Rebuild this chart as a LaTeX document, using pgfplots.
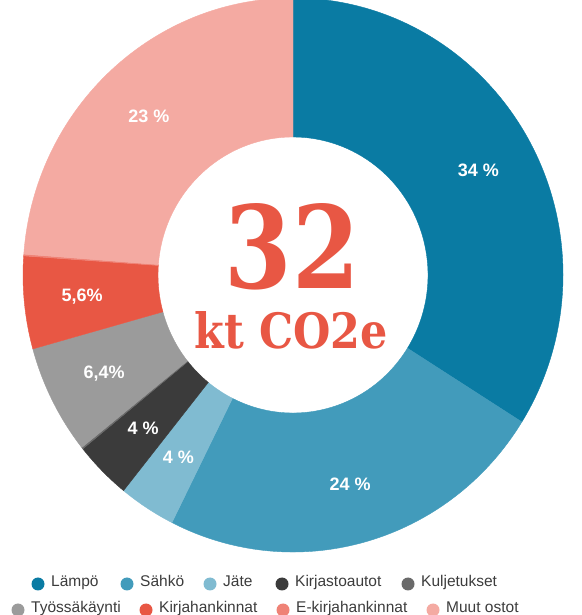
\documentclass[border=0pt]{standalone}
\usepackage{graphicx}
\usepackage{pgfplots}
\pgfplotsset{compat=1.18}
\usepackage{pgfplotstable}
\usepackage{fontspec}
\setmainfont{Liberation Sans}
\newfontfamily\slab{DejaVu Serif}

\definecolor{slice0}{HTML}{0A7BA3}
\definecolor{slice1}{HTML}{429BBB}
\definecolor{slice2}{HTML}{80BBD1}
\definecolor{slice3}{HTML}{3B3B3B}
\definecolor{slice4}{HTML}{6A6A6A}
\definecolor{slice5}{HTML}{9B9B9B}
\definecolor{slice6}{HTML}{E85744}
\definecolor{slice7}{HTML}{EF8276}
\definecolor{slice8}{HTML}{F4AAA2}
\definecolor{legtext}{HTML}{3C3C3C}

% share of the circle (%), label shown on the ring
\pgfplotstableread{
share label
33.9 {34 \%}
23.5 {24 \%}
3.4 {4 \%}
3.4 {4 \%}
0.1 {}
6.4 {6,4\%}
5.4 {5,6\%}
0.1 {}
23.8 {23 \%}
}\slices

% cumulative angles, clockwise from the top
\def\cum{0}
\pgfplotsforeachungrouped \i in {0,...,8}{%
  \pgfplotstablegetelem{\i}{share}\of\slices
  \pgfmathsetmacro\a{90-3.6*\cum}%
  \pgfmathsetmacro\cum{\cum+\pgfplotsretval}%
  \pgfmathsetmacro\b{90-3.6*\cum}%
  \expandafter\xdef\csname sa\i\endcsname{\a}%
  \expandafter\xdef\csname sb\i\endcsname{\b}%
  \pgfplotstablegetelem{\i}{label}\of\slices
  \expandafter\global\expandafter\let\csname sl\i\endcsname\pgfplotsretval
}

\newcommand\legitem[4]{%
  \fill[#3] (axis cs:#1,#2) circle[radius=6.5pt];
  \node[anchor=mid west, inner sep=0, text=legtext, font=\fontsize{15.5}{15.5}\selectfont]
    at (axis cs:{#1+13},#2) {#4};
}

\begin{document}
\begin{tikzpicture}
\begin{axis}[
    hide axis,
    scale only axis,
    width=581pt, height=615pt,
    xmin=-293, xmax=288,
    ymin=-340, ymax=275,
]
\pgfplotsinvokeforeach{0,...,8}{
  \fill[slice#1, draw=slice#1, line width=0.4pt]
    (axis cs:{270*cos(\csname sa#1\endcsname)},{277*sin(\csname sa#1\endcsname)})
    arc[start angle=\csname sa#1\endcsname, end angle=\csname sb#1\endcsname, x radius=270pt, y radius=277pt]
    -- (axis cs:{135*cos(\csname sb#1\endcsname)},{138*sin(\csname sb#1\endcsname)})
    arc[start angle=\csname sb#1\endcsname, end angle=\csname sa#1\endcsname, x radius=135pt, y radius=138pt]
    -- cycle;
}
\pgfplotsinvokeforeach{0,...,8}{
  \node[text=white, font=\bfseries\fontsize{18}{18}\selectfont, inner sep=0]
    at (axis cs:{212*cos((\csname sa#1\endcsname+\csname sb#1\endcsname)/2)},{217*sin((\csname sa#1\endcsname+\csname sb#1\endcsname)/2)})
    {\csname sl#1\endcsname};
}
\node[inner sep=0, text=slice6] at (axis cs:-1,28) {\resizebox{135pt}{85pt}{\slab\bfseries 32}};
\node[inner sep=0, text=slice6] at (axis cs:-1.5,-55) {\resizebox{193pt}{37pt}{\slab\bfseries kt CO2e}};

\legitem{-255}{-309}{slice0}{Lämpö}
\legitem{-166}{-309}{slice1}{Sähkö}
\legitem{-83}{-309}{slice2}{Jäte}
\legitem{-11}{-309}{slice3}{Kirjastoautot}
\legitem{115}{-309}{slice4}{Kuljetukset}
\legitem{-275}{-335}{slice5}{Työssäkäynti}
\legitem{-147}{-335}{slice6}{Kirjahankinnat}
\legitem{-10}{-335}{slice7}{E-kirjahankinnat}
\legitem{140}{-335}{slice8}{Muut ostot}
\end{axis}
\pgfresetboundingbox
\path[use as bounding box] (current axis.south west) rectangle (current axis.north east);
\end{tikzpicture}
\end{document}
